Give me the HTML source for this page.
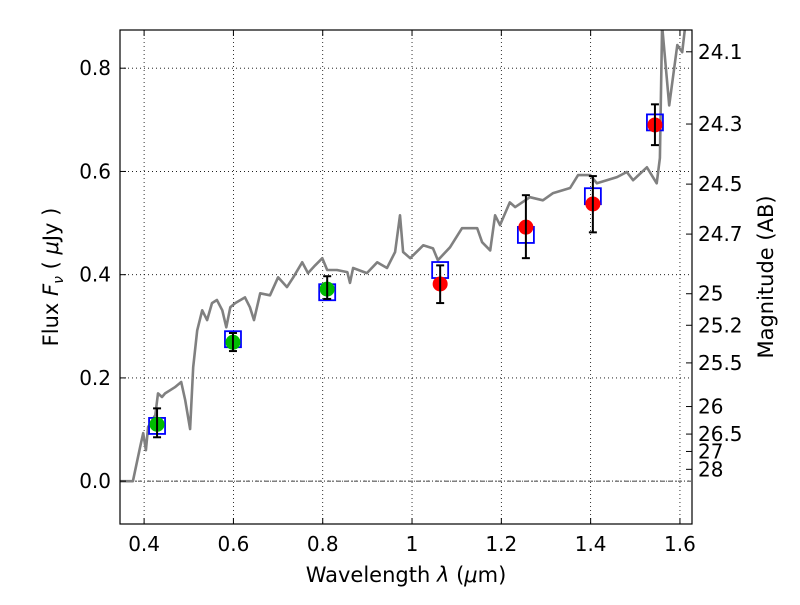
<!DOCTYPE html>
<html><head><meta charset="utf-8"><style>
body{margin:0;background:#fff}
svg text{font-family:"DejaVu Sans","Liberation Sans",sans-serif;fill:#000}
</style></head><body>
<svg id="c" width="800" height="600"></svg>
<script>
const xTicks=[0.4,0.6,0.8,1.0,1.2,1.4,1.6];
const xTickLabels=["0.4","0.6","0.8","1","1.2","1.4","1.6"];
const yTicks=[0.0,0.2,0.4,0.6,0.8];
const yTickLabels=["0.0","0.2","0.4","0.6","0.8"];
const magTicks=[24.1,24.3,24.5,24.7,25,25.2,25.5,26,26.5,27,28];
const magLabels=["24.1","24.3","24.5","24.7","25","25.2","25.5","26","26.5","27","28"];
const specWave=[0.346,0.375,0.391,0.398,0.404,0.409,0.425,0.431,0.440,0.447,0.458,0.469,0.483,0.492,0.503,0.510,0.519,0.530,0.541,0.552,0.563,0.575,0.584,0.593,0.604,0.626,0.637,0.646,0.660,0.682,0.700,0.720,0.734,0.754,0.767,0.783,0.799,0.810,0.832,0.855,0.861,0.868,0.899,0.922,0.944,0.962,0.973,0.980,0.996,1.018,1.025,1.047,1.058,1.085,1.112,1.146,1.157,1.175,1.186,1.197,1.219,1.231,1.264,1.293,1.316,1.354,1.372,1.399,1.414,1.459,1.481,1.495,1.526,1.548,1.555,1.560,1.576,1.594,1.605,1.612];
const specFlux=[0.0,0.0,0.066,0.093,0.060,0.105,0.128,0.170,0.163,0.170,0.176,0.182,0.192,0.157,0.101,0.221,0.292,0.331,0.312,0.345,0.351,0.331,0.298,0.337,0.345,0.356,0.337,0.312,0.364,0.360,0.395,0.376,0.395,0.424,0.403,0.418,0.432,0.409,0.409,0.405,0.384,0.413,0.403,0.424,0.413,0.444,0.515,0.444,0.432,0.451,0.457,0.451,0.428,0.453,0.490,0.490,0.463,0.447,0.515,0.496,0.540,0.531,0.550,0.544,0.558,0.568,0.593,0.593,0.577,0.589,0.599,0.583,0.608,0.577,0.626,0.883,0.728,0.845,0.831,0.883];
const obsWave=[0.429,0.599,0.810,1.063,1.255,1.405,1.544];
const obsFlux=[0.110,0.269,0.372,0.382,0.492,0.537,0.690];
const errLow=[0.085,0.252,0.353,0.345,0.432,0.482,0.651];
const errHigh=[0.141,0.287,0.397,0.418,0.554,0.591,0.730];
const modelFlux=[0.107,0.275,0.366,0.409,0.477,0.552,0.695];
const obsColor=["#00bb00","#00bb00","#00bb00","red","red","red","red"];

const L=120,R=692,T=30,B=524,X0=0.346,X1=1.627,Y0=-0.083,Y1=0.874;
const sx=v=>L+(v-X0)/(X1-X0)*(R-L);
const sy=v=>B-(v-Y0)/(Y1-Y0)*(B-T);
const svg=document.getElementById('c');const NS='http://www.w3.org/2000/svg';
function mk(tag,a,parent){const e=document.createElementNS(NS,tag);for(const k in a)e.setAttribute(k,a[k]);(parent||svg).appendChild(e);return e;}
const defs=mk('defs',{});const cp=mk('clipPath',{id:'clip'},defs);mk('rect',{x:L,y:T,width:R-L,height:B-T},cp);

xTicks.forEach((v,i)=>{const g=mk('line',{x1:sx(v),x2:sx(v),y1:T,y2:B,stroke:'#000','stroke-width':0.8,'stroke-dasharray':'1,3'});
});
yTicks.forEach(v=>{const g=mk('line',{x1:L,x2:R,y1:sy(v),y2:sy(v),stroke:'#000','stroke-width':0.8,'stroke-dasharray':'1,3'});
});
const zl=mk('line',{x1:L,x2:R,y1:sy(0),y2:sy(0),stroke:'#000','stroke-width':0.8,'stroke-dasharray':'4,2,1,2'});


let d='';specWave.forEach((w,i)=>{d+=(i?'L':'M')+sx(w).toFixed(1)+','+sy(specFlux[i]).toFixed(1);});
const sp=mk('path',{d:d,fill:'none',stroke:'#808080','stroke-width':2.6,'stroke-linejoin':'round','clip-path':'url(#clip)'});


obsWave.forEach((w,i)=>{const r=mk('rect',{x:sx(w)-8,y:sy(modelFlux[i])-8,width:16,height:16,fill:'none',stroke:'#0000ff','stroke-width':1.8});
});
obsWave.forEach((w,i)=>{const c=mk('circle',{cx:sx(w),cy:sy(obsFlux[i]),r:7.5,fill:obsColor[i]});
});
obsWave.forEach((w,i)=>{const g=mk('g',{stroke:'#000','stroke-width':2});

const x=sx(w),a=sy(errLow[i]),b=sy(errHigh[i]);
mk('line',{x1:x,x2:x,y1:a,y2:b},g);mk('line',{x1:x-4,x2:x+4,y1:a,y2:a},g);mk('line',{x1:x-4,x2:x+4,y1:b,y2:b},g);});

const fr=mk('rect',{x:L,y:T,width:R-L,height:B-T,fill:'none',stroke:'#000','stroke-width':1.2});

xTicks.forEach((v,i)=>{const x=sx(v);mk('line',{x1:x,x2:x,y1:B,y2:B-6,stroke:'#000'});mk('line',{x1:x,x2:x,y1:T,y2:T+6,stroke:'#000'});
const t=mk('text',{x:x,y:B+27,'text-anchor':'middle','font-size':20});t.textContent=xTickLabels[i];
});
yTicks.forEach((v,i)=>{const y=sy(v);mk('line',{x1:L,x2:L+6,y1:y,y2:y,stroke:'#000'});
const t=mk('text',{x:L-9,y:y+7,'text-anchor':'end','font-size':20});t.textContent=yTickLabels[i];
});
magTicks.forEach((m,i)=>{const y=sy(Math.pow(10,(23.9-m)/2.5));mk('line',{x1:R,x2:R-6,y1:y,y2:y,stroke:'#000'});
const t=mk('text',{x:R+6,y:y+7,'font-size':20});t.textContent=magLabels[i];
});

const xt=mk('text',{x:406,y:582,'text-anchor':'middle','font-size':21});xt.innerHTML='Wavelength  <tspan font-style="italic">λ</tspan>  (<tspan font-style="italic">μ</tspan>m)';

const yt=mk('text',{x:0,y:0,'text-anchor':'middle','font-size':21,transform:'translate(58,277) rotate(-90)'});yt.innerHTML='Flux  <tspan font-style="italic">F</tspan><tspan font-style="italic" font-size="14" dy="5">ν</tspan><tspan dy="-5">  (  </tspan><tspan font-style="italic">μ</tspan>Jy )';

const rt=mk('text',{x:0,y:0,'text-anchor':'middle','font-size':21,transform:'translate(773,277) rotate(-90)'});rt.textContent='Magnitude (AB)';

</script>
</body></html>
